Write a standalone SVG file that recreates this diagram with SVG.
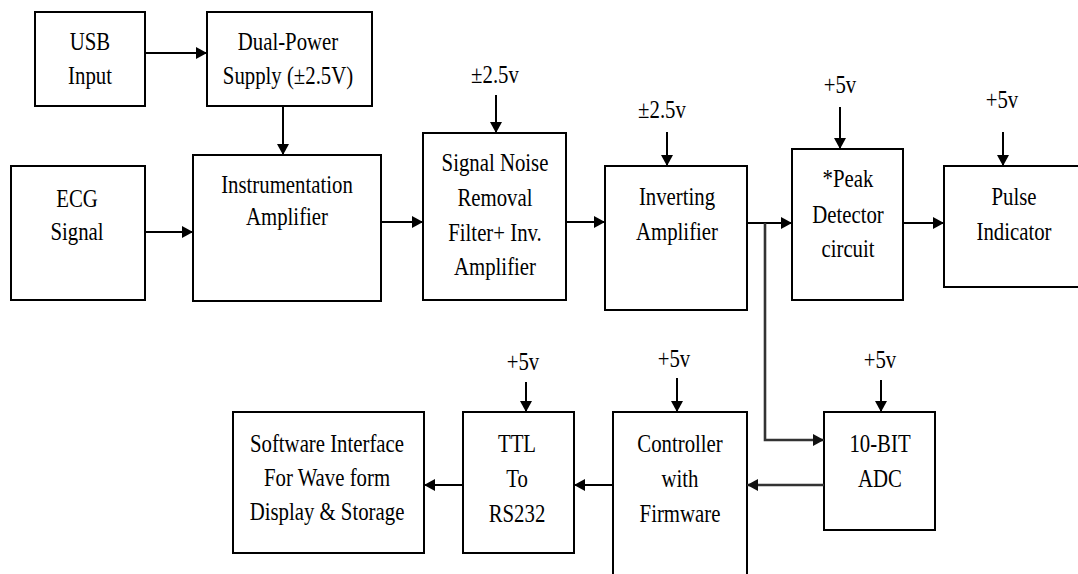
<svg xmlns="http://www.w3.org/2000/svg" width="1078" height="574" viewBox="0 0 1078 574">
<defs>
<marker id="ah" viewBox="0 0 11 12" markerWidth="11" markerHeight="12" refX="11" refY="6" orient="auto" markerUnits="userSpaceOnUse">
<path d="M0,0 L11,6 L0,12 z" fill="#000"/>
</marker>
<marker id="ahg" viewBox="0 0 11 12" markerWidth="11" markerHeight="12" refX="11" refY="6" orient="auto" markerUnits="userSpaceOnUse">
<path d="M0,0 L11,6 L0,12 z" fill="#111"/>
</marker>
<style>
.box{fill:#fff;stroke:#000;stroke-width:2}
.t{font-family:'Liberation Serif','DejaVu Serif',serif;font-size:26px;text-anchor:middle;fill:#000}
.c{fill:none;stroke:#000;stroke-width:2;marker-end:url(#ah)}
.ga{fill:none;stroke:#333;stroke-width:2.6;marker-end:url(#ahg)}
</style>
</defs>
<rect width="1078" height="574" fill="#fff"/>

<g id="usb">
<rect class="box" x="35" y="12" width="110" height="94"/>
<g transform="translate(90,0) scale(0.8,1)"><text class="t" y="50">USB</text><text class="t" y="84">Input</text></g>
</g>
<g id="dps">
<rect class="box" x="207" y="12" width="165" height="94"/>
<g transform="translate(288,0) scale(0.8,1)"><text class="t" y="50">Dual-Power</text><text class="t" y="84">Supply (±2.5V)</text></g>
</g>
<g id="ecg">
<rect class="box" x="11" y="166" width="134" height="134"/>
<g transform="translate(77,0) scale(0.8,1)"><text class="t" y="207">ECG</text><text class="t" y="240">Signal</text></g>
</g>
<g id="inst">
<rect class="box" x="193" y="155" width="188" height="146"/>
<g transform="translate(287,0) scale(0.8,1)"><text class="t" y="193">Instrumentation</text><text class="t" y="225">Amplifier</text></g>
</g>
<g id="snr">
<rect class="box" x="423" y="133" width="143" height="167"/>
<g transform="translate(495,0) scale(0.8,1)"><text class="t" y="83">±2.5v</text><text class="t" y="171">Signal Noise</text><text class="t" y="206">Removal</text><text class="t" y="241">Filter+ Inv.</text><text class="t" y="275">Amplifier</text></g>
</g>
<g id="inv">
<rect class="box" x="605" y="166" width="142" height="144"/>
<g transform="translate(677,0) scale(0.8,1)"><text class="t" y="205">Inverting</text><text class="t" y="240">Amplifier</text></g>
<g transform="translate(662,0) scale(0.8,1)"><text class="t" y="118">±2.5v</text></g>
</g>
<g id="peak">
<rect class="box" x="792" y="149" width="111" height="151"/>
<g transform="translate(848,0) scale(0.8,1)"><text class="t" y="187">*Peak</text><text class="t" y="223">Detector</text><text class="t" y="257">circuit</text></g>
<g transform="translate(840,0) scale(0.8,1)"><text class="t" y="93">+5v</text></g>
</g>
<g id="pulse">
<rect class="box" x="944" y="166" width="150" height="121"/>
<g transform="translate(1014,0) scale(0.8,1)"><text class="t" y="205">Pulse</text><text class="t" y="240">Indicator</text></g>
<g transform="translate(1002,0) scale(0.8,1)"><text class="t" y="108">+5v</text></g>
</g>
<g id="adc">
<rect class="box" x="824" y="412" width="111" height="118"/>
<g transform="translate(880,0) scale(0.8,1)"><text class="t" y="452">10-BIT</text><text class="t" y="487">ADC</text><text class="t" y="368">+5v</text></g>
</g>
<g id="ctrl">
<rect class="box" x="613" y="412" width="134" height="180"/>
<g transform="translate(680,0) scale(0.8,1)"><text class="t" y="452">Controller</text><text class="t" y="487">with</text><text class="t" y="522">Firmware</text></g>
<g transform="translate(674,0) scale(0.8,1)"><text class="t" y="367">+5v</text></g>
</g>
<g id="ttl">
<rect class="box" x="463" y="412" width="111" height="141"/>
<g transform="translate(517,0) scale(0.8,1)"><text class="t" y="452">TTL</text><text class="t" y="487">To</text><text class="t" y="522">RS232</text></g>
<g transform="translate(523,0) scale(0.8,1)"><text class="t" y="370">+5v</text></g>
</g>
<g id="sw">
<rect class="box" x="233" y="412" width="191" height="141"/>
<g transform="translate(327,0) scale(0.8,1)"><text class="t" y="452">Software Interface</text><text class="t" y="486">For Wave form</text><text class="t" y="520">Display &amp; Storage</text></g>
</g>

<g id="connectors">
<path class="c" d="M145,53 H207"/>
<path class="c" d="M283,106 V155"/>
<path class="c" d="M145,232 H193"/>
<path class="c" d="M381,222 H423"/>
<path class="c" d="M566,222 H605"/>
<path class="c" d="M747,223 H792"/>
<path class="c" d="M903,223 H944"/>
<path class="ga" d="M765,223 V440 H824"/>
<path class="ga" d="M824,485 H747"/>
<path class="c" d="M613,485 H574"/>
<path class="c" d="M463,485 H424"/>
<path class="c" d="M496,95 V133"/>
<path class="c" d="M667,132 V166"/>
<path class="c" d="M840,107 V149"/>
<path class="c" d="M1003,132 V166"/>
<path class="c" d="M526,382 V412"/>
<path class="c" d="M677,378 V412"/>
<path class="c" d="M881,380 V412"/>
</g>
</svg>
